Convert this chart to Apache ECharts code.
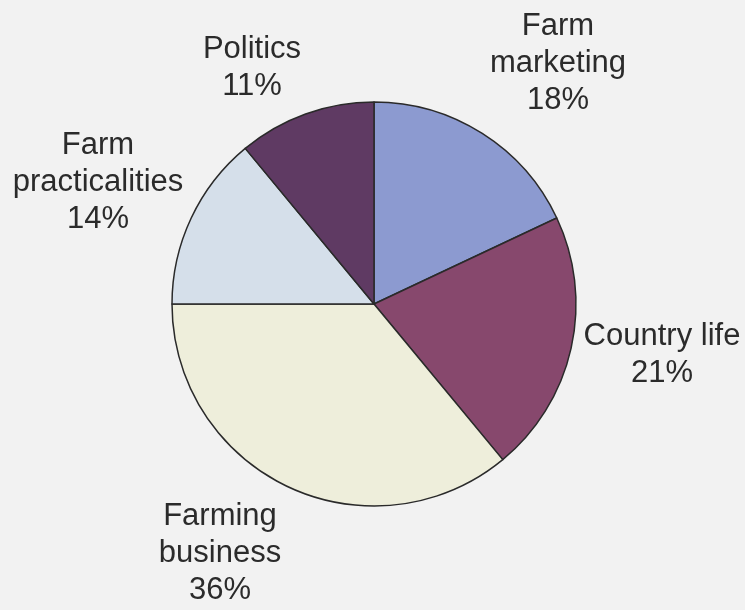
<!DOCTYPE html>
<html>
<head>
<meta charset="utf-8">
<script src="https://cdn.jsdelivr.net/npm/echarts@6/dist/echarts.min.js"></script>
<style>
html,body{margin:0;padding:0;background:#f2f2f2;}
#c{width:745px;height:610px;}
</style>
</head>
<body>
<div id="c"></div>
<script>
const categories = ['Farm\nmarketing', 'Country life', 'Farming\nbusiness', 'Farm\npracticalities', 'Politics'];
const values = [18, 21, 36, 14, 11];
const colors = ['#8c9ad0', '#87486d', '#eeeedb', '#d5dfea', '#5f3a63'];
// label anchor positions (centre of each text block)
const labelPos = [[558, 63], [662, 355], [220, 553], [98, 182], [252, 68]];

const chart = echarts.init(document.getElementById('c'), null, {renderer: 'canvas'});
chart.setOption({
  backgroundColor: '#f2f2f2',
  animation: false,
  series: [{
    type: 'pie',
    center: [374, 304],
    radius: 202,
    startAngle: 90,
    clockwise: true,
    avoidLabelOverlap: false,
    data: categories.map((c, i) => ({name: c, value: values[i], itemStyle: {color: colors[i]}})),
    itemStyle: {borderColor: '#2a2a2a', borderWidth: 1.5},
    label: {
      show: true,
      position: 'outside',
      formatter: '{b}\n{d}%',
      fontFamily: 'Liberation Sans, Arial, sans-serif',
      fontSize: 31,
      lineHeight: 37,
      color: '#2b2b2b',
      align: 'center',
      overflow: 'none',
      width: 300
    },
    labelLine: {show: false},
    labelLayout: function (p) {
      const pos = labelPos[p.dataIndex];
      return {x: pos[0], y: pos[1], align: 'center', verticalAlign: 'middle'};
    },
    emphasis: {disabled: true}
  }]
});
</script>
</body>
</html>
